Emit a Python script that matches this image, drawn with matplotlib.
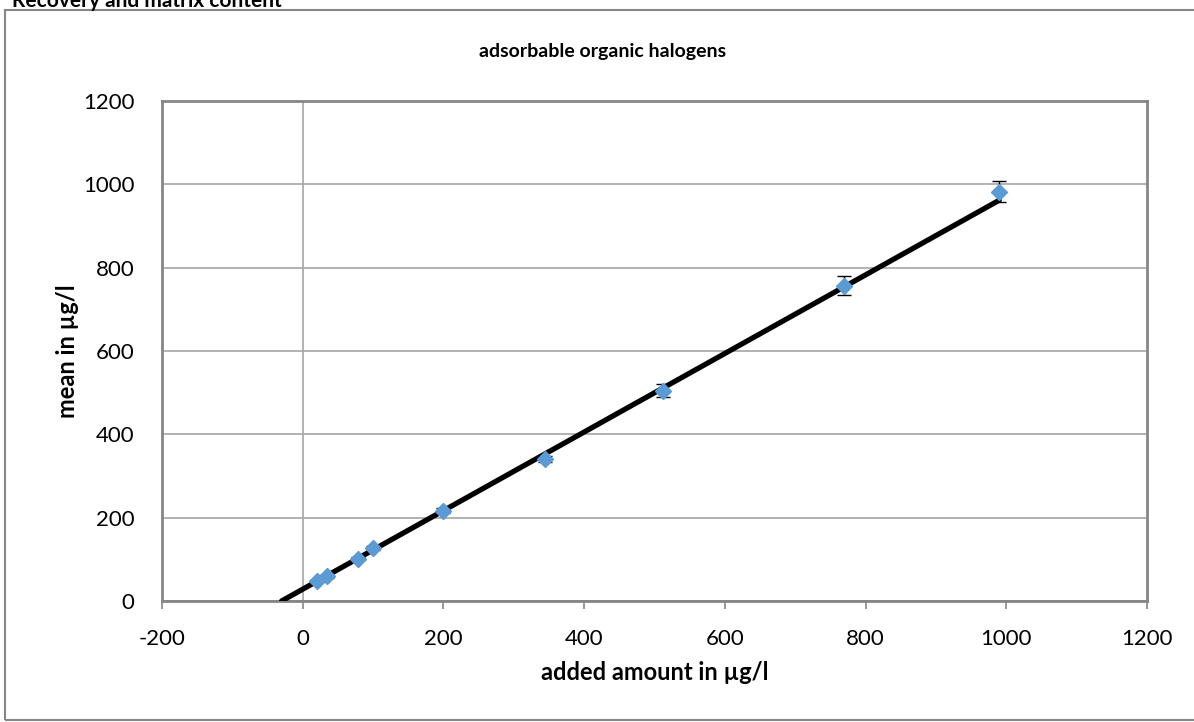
"""Recovery plot: adsorbable organic halogens (Excel-style chart)."""

import matplotlib
matplotlib.use("Agg")
import matplotlib.pyplot as plt
from matplotlib.patches import Rectangle

# data
added = [21, 35, 78, 100, 199, 345, 512, 769, 990]
mean = [48, 59, 102, 127, 217, 341, 505, 757, 982]
sd = [3, 4, 4, 5, 6, 8, 15, 22, 25]
trend_x = [-30, 990]
slope, intercept = 0.943, 28.3

x_ticks = [-200, 0, 200, 400, 600, 800, 1000, 1200]
y_ticks = [0, 200, 400, 600, 800, 1000, 1200]

FONT = ["Lato", "DejaVu Sans"]
GRID = "#A6A6A6"
FRAME = "#868686"
BLUE = "#5B9BD5"

plt.rcParams["font.family"] = FONT

W, H = 1194, 722
fig = plt.figure(figsize=(W / 100, H / 100), dpi=100)
fig.patch.set_facecolor("white")

# outer chart border
fig.patches.append(Rectangle((5 / W, 2 / H), (W - 4) / W, (H - 12) / H,
                             transform=fig.transFigure, fill=False,
                             edgecolor=FRAME, linewidth=1.5))

ax = fig.add_axes([162 / W, (H - 601) / H, (1147 - 162) / W, (601 - 101) / H])
ax.set_xlim(-200, 1200)
ax.set_ylim(0, 1200)
ax.set_xticks(x_ticks)
ax.set_yticks(y_ticks)
ax.set_xticklabels([str(v) for v in x_ticks])
ax.set_yticklabels([str(v) for v in y_ticks])

for y in y_ticks[1:]:
    ax.axhline(y, color=GRID, linewidth=1.2, zorder=1)
ax.axvline(0, color=GRID, linewidth=1.2, zorder=1)
ax.axhline(0, color=FRAME, linewidth=2, zorder=1)

for s in ax.spines.values():
    s.set_color(FRAME)
    s.set_linewidth(2)

ax.tick_params(axis="x", length=6, width=1.2, color=FRAME, pad=14,
               labelsize=16, direction="out")
ax.tick_params(axis="y", length=0, pad=20, labelsize=16)

# trendline
ty = [slope * v + intercept for v in trend_x]
ax.plot(trend_x, ty, color="black", linewidth=3.8, solid_capstyle="round", zorder=3)

ax.errorbar(added, mean, yerr=sd, fmt="D", color=BLUE, markersize=8,
            ecolor="black", elinewidth=1, capsize=5, capthick=1, zorder=4)

ax.set_xlabel("added amount in µg/l", fontsize=17, fontweight="bold", labelpad=9)
ax.set_ylabel("mean in µg/l", fontsize=17, fontweight="bold", labelpad=3)

fig.text(603 / W, 1 - 52 / H, "adsorbable organic halogens", ha="center",
         va="center", fontsize=14, fontweight="bold")
fig.text(12 / W, 1 - 7 / H, "Recovery and matrix content", ha="left",
         va="baseline", fontsize=15, fontweight="bold")

fig.savefig("out.png", dpi=100)
